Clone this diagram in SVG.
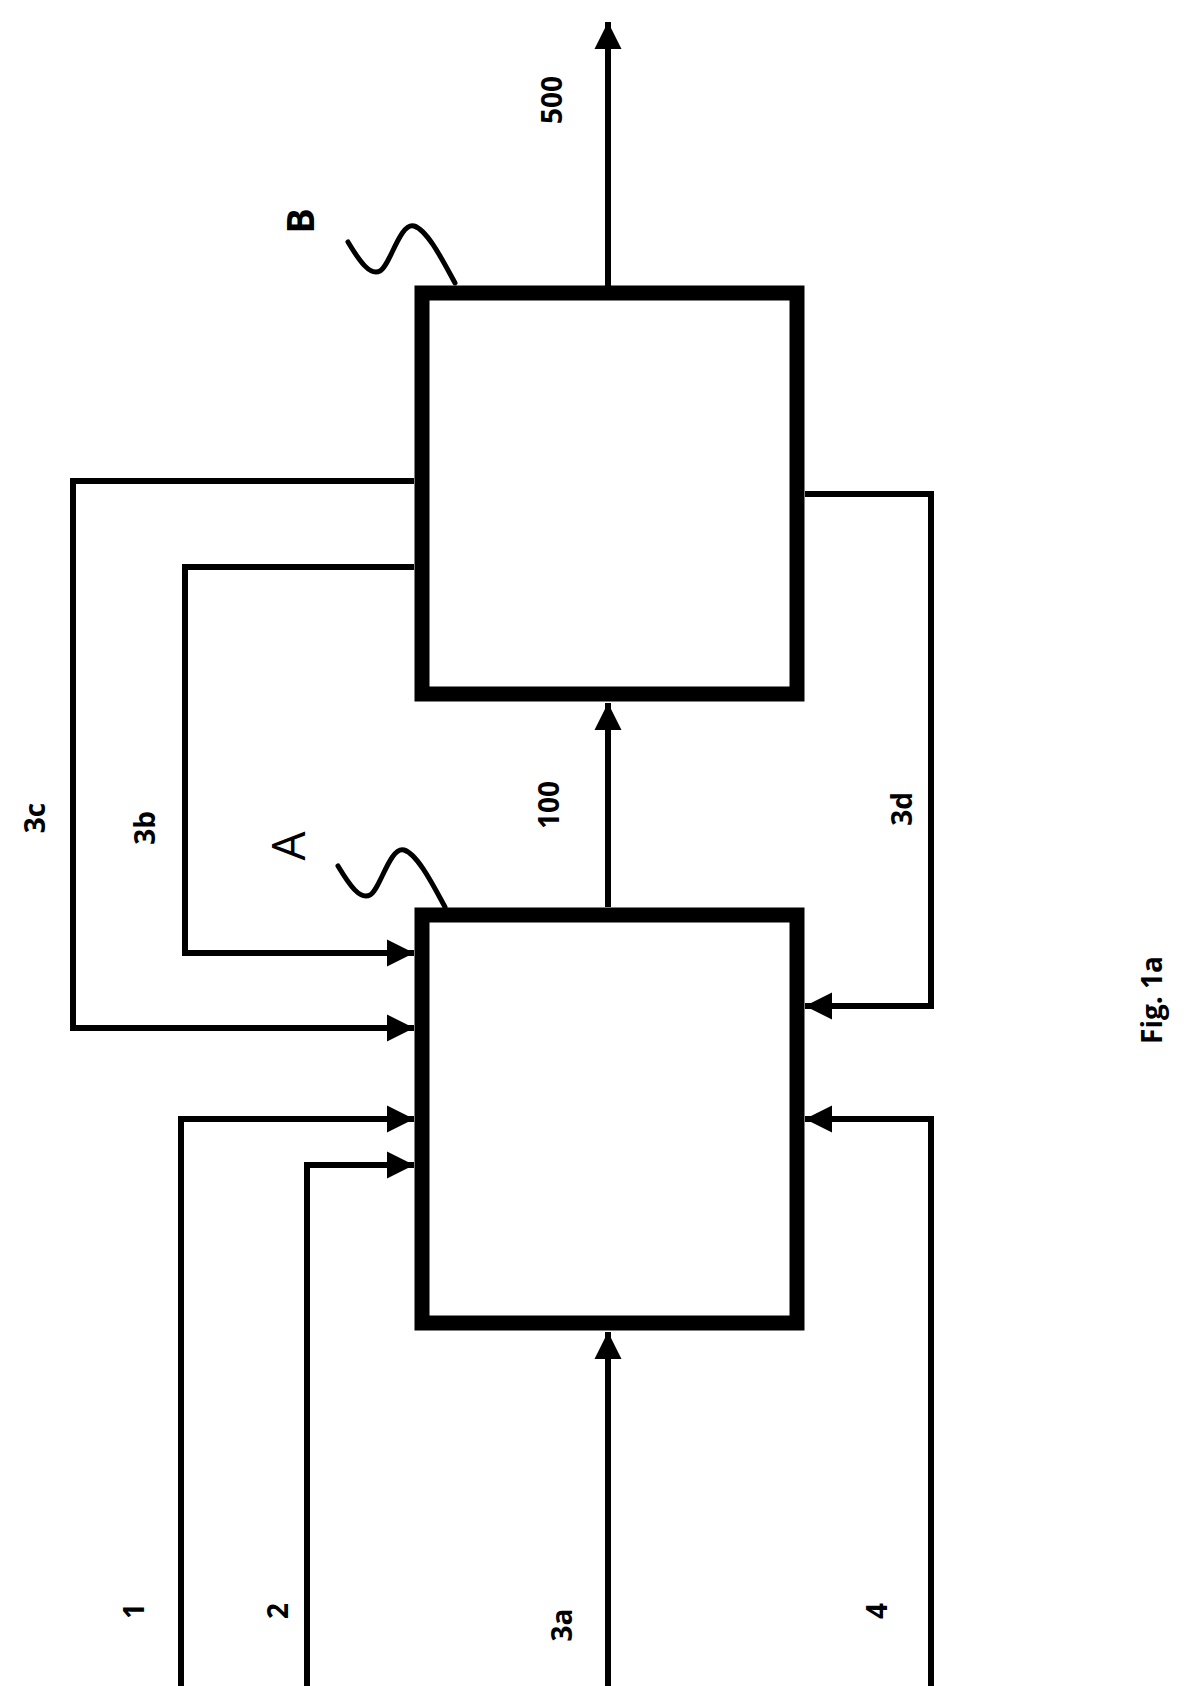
<svg xmlns="http://www.w3.org/2000/svg" width="1194" height="1686" viewBox="0 0 1194 1686">
<style>
.box{fill:#fff;stroke:#000;stroke-width:15}
.ln{fill:none;stroke:#000;stroke-width:6}
.sq{fill:none;stroke:#000;stroke-width:5;stroke-linecap:round}
text{font-family:"Open Sans","Liberation Sans",sans-serif;font-weight:bold;font-size:28px;fill:#000}
</style>
<defs>
<marker id="ah" viewBox="0 0 10 10" refX="10" refY="5" markerWidth="4.5" markerHeight="5" markerUnits="strokeWidth" orient="auto"><path d="M0,0L10,5L0,10z" fill="#000"/></marker>
</defs>
<rect width="1194" height="1686" fill="#fff"/>
<g id="connectors">
<path class="ln" d="M608,293V22" marker-end="url(#ah)"/>
<path class="ln" d="M608,907V703" marker-end="url(#ah)"/>
<path class="ln" d="M608,1686V1332" marker-end="url(#ah)"/>
<path class="ln" d="M181,1686V1119H414" marker-end="url(#ah)"/>
<path class="ln" d="M307,1686V1165H414" marker-end="url(#ah)"/>
<path class="ln" d="M414,481H73V1028H414" marker-end="url(#ah)"/>
<path class="ln" d="M414,567H185V953H414" marker-end="url(#ah)"/>
<path class="ln" d="M805,494H931V1006H805" marker-end="url(#ah)"/>
<path class="ln" d="M931,1686V1119H805" marker-end="url(#ah)"/>
<path class="sq" d="M348,242C360,262 370,276 380,271S400,222 414,226S445,265 455,283"/>
<path class="sq" d="M338,866C350,886 360,900 370,895S390,846 404,850S435,889 445,907"/>
</g>
<g id="nodeA"><rect class="box" x="422" y="915" width="375" height="408"/></g>
<g id="nodeB"><rect class="box" x="422" y="293" width="375" height="401"/></g>
<g id="labels">
<text transform="translate(144,1611) rotate(-90)" text-anchor="middle">1</text>
<text transform="translate(288,1611) rotate(-90)" text-anchor="middle">2</text>
<text transform="translate(572,1625) rotate(-90)" text-anchor="middle">3a</text>
<text transform="translate(887,1611) rotate(-90)" text-anchor="middle">4</text>
<text transform="translate(45,818) rotate(-90)" text-anchor="middle">3c</text>
<text transform="translate(155,828) rotate(-90)" text-anchor="middle">3b</text>
<text transform="translate(559,805) rotate(-90)" text-anchor="middle">100</text>
<text transform="translate(912,809) rotate(-90)" text-anchor="middle">3d</text>
<text transform="translate(562,100) rotate(-90)" text-anchor="middle">500</text>
<text transform="translate(305,846) rotate(-90)" text-anchor="middle" style="font-size:46px;font-weight:normal">A</text>
<text transform="translate(314,221) rotate(-90)" text-anchor="middle" style="font-size:38px">B</text>
<text transform="translate(1162,1000) rotate(-90)" text-anchor="middle">Fig. 1a</text>
</g>
</svg>
